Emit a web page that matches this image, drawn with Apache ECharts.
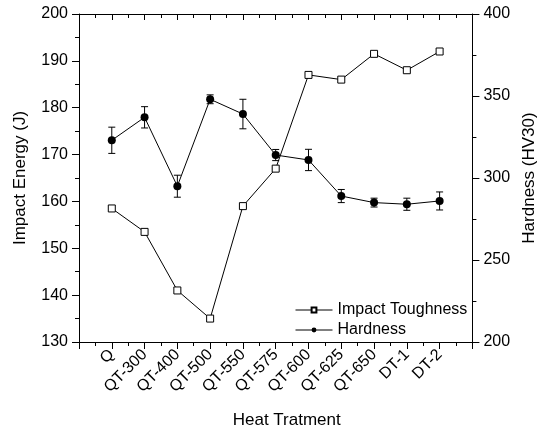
<!DOCTYPE html>
<html>
<head>
<meta charset="utf-8">
<script src="https://cdn.jsdelivr.net/npm/echarts@6/dist/echarts.min.js"></script>
<style>
html,body{margin:0;padding:0;background:#fff;}
#chart{width:546px;height:434px;}
</style>
</head>
<body>
<div id="chart"></div>
<script>
const categories = ['Q','QT-300','QT-400','QT-500','QT-550','QT-575','QT-600','QT-625','QT-650','DT-1','DT-2'];
const impactEnergy = [158.5, 153.5, 141, 135, 159, 167, 187, 186, 191.5, 188, 192];
const hardness = [323, 337, 295, 348, 339, 314, 311, 289, 285, 284, 286];
const hardnessErr = [8, 6.5, 6.7, 2.7, 9, 3.4, 6.5, 4, 2.7, 3.7, 5.5];
const leftTicks = {min:130, max:200, step:10};
const rightTicks = {min:200, max:400, step:50};

const FONT = 'Liberation Sans, Arial, sans-serif';
const chart = echarts.init(document.getElementById('chart'), null, {renderer:'canvas'});

const impactData = categories.map((c,i)=>[i, impactEnergy[i]]);
const hardData = categories.map((c,i)=>[i, hardness[i]]);
const errData = categories.map((c,i)=>[i, hardness[i]-hardnessErr[i], hardness[i]+hardnessErr[i]]);

const axisLine = {show:true, onZero:false, lineStyle:{color:'#000', width:1}};
const catFmt = v => (Number.isInteger(v) && v>=0 && v<categories.length) ? categories[v] : '';

chart.setOption({
  animation:false,
  backgroundColor:'#fff',
  grid:{left:79, right:62, top:14, bottom:91, containLabel:false},
  legend:{
    orient:'vertical', left:295, top:302, padding:0, itemWidth:37, itemHeight:6, itemGap:4,
    lineStyle:{width:1, color:'#000'},
    textStyle:{fontFamily:FONT, fontSize:16, color:'#000'},
    data:['Impact Toughness','Hardness']
  },
  xAxis:[
    {type:'value', position:'bottom', min:-1, max:11, interval:1,
     axisLine:axisLine, splitLine:{show:false},
     axisTick:{show:true, inside:false, length:7, lineStyle:{color:'#000'}},
     minorTick:{show:true, splitNumber:2, length:4, lineStyle:{color:'#000'}},
     axisLabel:{formatter:catFmt, rotate:45, margin:10, fontFamily:FONT, fontSize:16, color:'#000'},
     name:'Heat Tratment', nameLocation:'middle', nameGap:70,
     nameTextStyle:{fontFamily:FONT, fontSize:17, color:'#000', padding:[0,0,0,22]}
    },
    {type:'value', position:'top', min:-1, max:11, interval:1,
     axisLine:axisLine, splitLine:{show:false},
     axisTick:{show:true, inside:true, length:6, lineStyle:{color:'#000'}},
     minorTick:{show:true, splitNumber:2, length:4, lineStyle:{color:'#000'}},
     axisLabel:{show:false}
    }
  ],
  yAxis:[
    {type:'value', position:'left', min:leftTicks.min, max:leftTicks.max, interval:leftTicks.step,
     axisLine:axisLine, splitLine:{show:false},
     axisTick:{show:true, inside:false, length:7, lineStyle:{color:'#000'}},
     minorTick:{show:true, splitNumber:2, length:4, lineStyle:{color:'#000'}},
     axisLabel:{margin:11, fontFamily:FONT, fontSize:16, color:'#000'},
     name:'Impact Energy (J)', nameLocation:'middle', nameGap:50, nameRotate:90,
     nameTextStyle:{fontFamily:FONT, fontSize:17, color:'#000'}
    },
    {type:'value', position:'right', min:rightTicks.min, max:rightTicks.max, interval:rightTicks.step,
     axisLine:axisLine, splitLine:{show:false},
     axisTick:{show:true, inside:false, length:7, lineStyle:{color:'#000'}},
     minorTick:{show:true, splitNumber:2, length:4, lineStyle:{color:'#000'}},
     axisLabel:{margin:11, fontFamily:FONT, fontSize:16, color:'#000'},
     name:'Hardness (HV30)', nameLocation:'middle', nameGap:46, nameRotate:90,
     nameTextStyle:{fontFamily:FONT, fontSize:17, color:'#000'}
    }
  ],
  series:[
    {name:'Impact Toughness', type:'line', xAxisIndex:0, yAxisIndex:0, data:impactData,
     symbol:'rect', symbolSize:7, showAllSymbol:true,
     itemStyle:{color:'#fff', borderColor:'#000', borderWidth:1},
     lineStyle:{color:'#000', width:1}, z:3},
    {name:'Hardness', type:'line', xAxisIndex:0, yAxisIndex:1, data:hardData,
     symbol:'circle', symbolSize:8, showAllSymbol:true,
     itemStyle:{color:'#000', borderColor:'#000', borderWidth:0},
     lineStyle:{color:'#000', width:1}, z:3},
    {name:'err', type:'custom', xAxisIndex:0, yAxisIndex:1, data:errData, z:2,
     renderItem:function(params, api){
       const x = api.value(0);
       const lo = api.coord([x, api.value(1)]);
       const hi = api.coord([x, api.value(2)]);
       const hw = 3.5;
       const st = {stroke:'#000', lineWidth:1};
       return {type:'group', children:[
         {type:'line', shape:{x1:lo[0], y1:lo[1], x2:hi[0], y2:hi[1]}, style:st},
         {type:'line', shape:{x1:lo[0]-hw, y1:lo[1], x2:lo[0]+hw, y2:lo[1]}, style:st},
         {type:'line', shape:{x1:hi[0]-hw, y1:hi[1], x2:hi[0]+hw, y2:hi[1]}, style:st}
       ]};
     }
    }
  ]
});
</script>
</body>
</html>
